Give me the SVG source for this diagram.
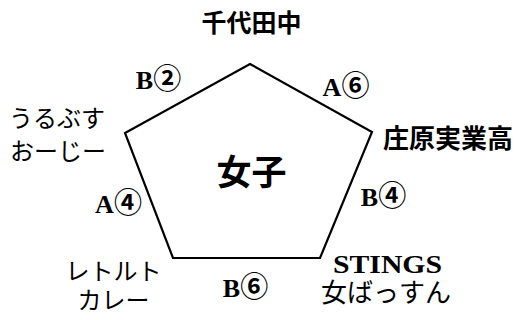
<svg xmlns="http://www.w3.org/2000/svg" width="516" height="320" viewBox="0 0 516 320">
<style>
.t{font-family:"Liberation Serif","Noto Sans CJK JP",serif;font-size:24px;fill:#000}
.j{font-size:26px}
.b{font-weight:bold}
.m{text-anchor:middle}
.l{font-size:26px}
.c{font-size:28px;font-weight:bold}
</style>
<rect width="516" height="320" fill="#fff"/>
<g id="connectors">
<polygon points="250,64 372,132 320,258 173,258 125,133" fill="none" stroke="#000" stroke-width="2.2" stroke-linejoin="miter"/>
</g>
<g id="center"><text class="t b m" x="251.5" y="185" style="font-size:35px">女子</text></g>
<g id="n1"><text class="t b m" x="251.5" y="32" style="font-size:25px">千代田中</text></g>
<g id="n2"><text class="t b m j" x="448" y="148">庄原実業高</text></g>
<g id="n3"><text class="t b m" x="387.5" y="273" style="font-size:26px" textLength="109" lengthAdjust="spacingAndGlyphs">STINGS</text><text class="t m j" x="386" y="302">女ばっすん</text></g>
<g id="n4"><text class="t m" x="113.5" y="280">レトルト</text><text class="t m" x="113.5" y="309">カレー</text></g>
<g id="n5"><text class="t m" x="57" y="127">うるぶす</text><text class="t m" x="58" y="160">おーじー</text></g>
<g id="labels">
<text class="t b m l" x="158.5" y="89">B<tspan class="c">②</tspan></text>
<text class="t b m l" x="346" y="96">A<tspan class="c">⑥</tspan></text>
<text class="t b m l" x="383.5" y="206">B<tspan class="c">④</tspan></text>
<text class="t b m l" x="118.5" y="213">A<tspan class="c">④</tspan></text>
<text class="t b m l" x="245.5" y="297">B<tspan class="c">⑥</tspan></text>
</g>
</svg>
